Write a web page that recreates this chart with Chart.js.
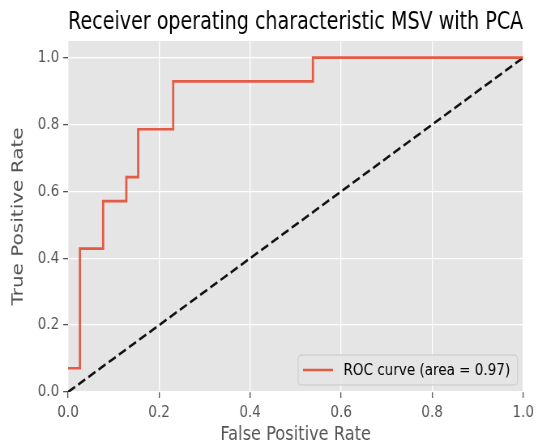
<!DOCTYPE html>
<html>
<head>
<meta charset="utf-8">
<script src="https://cdn.jsdelivr.net/npm/chart.js@4.4.1/dist/chart.umd.min.js"></script>
<style>
  html, body { margin: 0; padding: 0; background: #fff; overflow: hidden; }
  #wrap { width: 538px; height: 446px; overflow: hidden; }
  /* the reference is squeezed horizontally, so draw wider and squeeze */
  #roc { transform: scaleX(0.8102); transform-origin: 0 0; }
</style>
</head>
<body>
<div id="wrap"><canvas id="roc" width="664" height="446"></canvas></div>
<script>
// ROC curve (corner points, like sklearn roc_curve output)
const fpr = [0, 0.026, 0.026, 0.077, 0.077, 0.128, 0.128, 0.154, 0.154, 0.231, 0.231, 0.538, 0.538, 1.0];
const tpr = [0.071, 0.071, 0.429, 0.429, 0.571, 0.571, 0.643, 0.643, 0.786, 0.786, 0.929, 0.929, 1.0, 1.0];
const chanceX = [0, 1];
const chanceY = [0, 1];
const xTicks = [0, 0.2, 0.4, 0.6, 0.8, 1.0];
const yTicks = [0, 0.2, 0.4, 0.6, 0.8, 1.0];
const rocLabel = 'ROC curve (area = 0.97)';
const titleText = 'Receiver operating characteristic MSV with PCA';

const FONT = "'DejaVu Sans', sans-serif";

const panelBg = {
  id: 'panelBg',
  beforeDraw(chart) {
    const { ctx, chartArea: a } = chart;
    ctx.save();
    ctx.fillStyle = '#E5E5E5';
    ctx.fillRect(a.left, a.top, a.right - a.left, a.bottom - a.top);
    ctx.restore();
  }
};

const boxLegend = {
  id: 'boxLegend',
  afterDraw(chart) {
    const { ctx, chartArea: a } = chart;
    const ds = chart.data.datasets[0];
    ctx.save();
    ctx.font = "16.7px " + FONT;
    const tw = ctx.measureText(ds.label).width;
    const w = tw + 65, h = 30;
    const x = a.right - 7 - w, y = a.bottom - 7 - h;
    ctx.globalAlpha = 0.8;
    ctx.fillStyle = '#E5E5E5';
    ctx.strokeStyle = '#CCCCCC';
    ctx.lineWidth = 1.3;
    ctx.beginPath();
    ctx.roundRect(x, y, w, h, 4);
    ctx.fill();
    ctx.stroke();
    ctx.globalAlpha = 1;
    ctx.strokeStyle = ds.borderColor;
    ctx.lineWidth = ds.borderWidth;
    ctx.beginPath();
    ctx.moveTo(x + 6, y + h / 2);
    ctx.lineTo(x + 43, y + h / 2);
    ctx.stroke();
    ctx.fillStyle = '#000';
    ctx.textBaseline = 'middle';
    ctx.fillText(ds.label, x + 56, y + h / 2 + 1);
    ctx.restore();
  }
};

function axis(ticks, max, titleStr, isX) {
  return {
    type: 'linear',
    min: 0,
    max: max,
    afterBuildTicks: s => { s.ticks = ticks.map(v => ({ value: v })); },
    afterFit: s => { if (isX) s.height = 54; else s.width = 84; },
    grid: { color: '#FFFFFF', lineWidth: 1.3, tickColor: '#555555', tickWidth: 1.3, tickLength: 6, drawTicks: true },
    border: { display: false },
    ticks: {
      color: '#555555',
      font: { family: FONT, size: 16.7 },
      padding: isX ? 5 : 5,
      maxRotation: 0,
      autoSkip: false,
      callback: v => Number(v).toFixed(1)
    },
    title: {
      display: true,
      text: titleStr,
      color: '#555555',
      font: { family: FONT, size: 20, lineHeight: 1.1 },
      padding: isX ? { top: 0, bottom: 0 } : { top: 12, bottom: 0 }
    }
  };
}

window.onload = function () {
  const ctx = document.getElementById('roc').getContext('2d');
  new Chart(ctx, {
    type: 'scatter',
    data: {
      datasets: [
        {
          label: rocLabel,
          data: fpr.map((x, i) => ({ x: x, y: tpr[i] })),
          showLine: true,
          borderColor: 'rgba(226, 74, 51, 0.9)',
          borderWidth: 2.7,
          pointRadius: 0,
          fill: false,
          tension: 0
        },
        {
          label: 'chance',
          data: chanceX.map((x, i) => ({ x: x, y: chanceY[i] })),
          showLine: true,
          borderColor: '#111111',
          borderWidth: 2.6,
          borderDash: [10, 4.6],
          pointRadius: 0,
          fill: false
        }
      ]
    },
    options: {
      responsive: false,
      animation: false,
      devicePixelRatio: 1,
      layout: { padding: { left: 0, right: 12, top: 0, bottom: 0 } },
      plugins: {
        legend: { display: false },
        tooltip: { enabled: false },
        title: {
          display: true,
          text: titleText,
          fullSize: false,
          color: '#000000',
          font: { family: FONT, size: 24, weight: 'normal', lineHeight: 1.2 },
          padding: { top: 8.6, bottom: 3.6 }
        }
      },
      scales: {
        x: axis(xTicks, 1.0, 'False Positive Rate', true),
        y: axis(yTicks, 1.05, 'True Positive Rate', false)
      }
    },
    plugins: [panelBg, boxLegend]
  });
};
</script>
</body>
</html>
